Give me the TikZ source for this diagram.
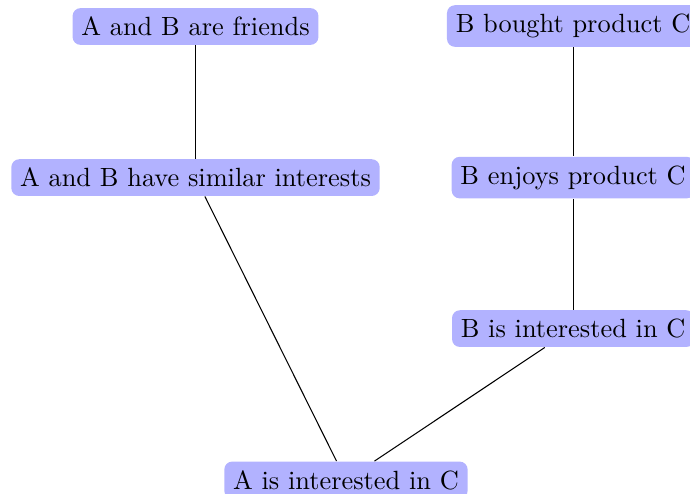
\documentclass[tikz,border=0pt]{standalone}
\begin{document}
\begin{tikzpicture}[x=1pt,y=1pt,
  box/.style={fill=blue!30, rounded corners=3pt, inner sep=3.333pt},
  link/.style={draw=black, line width=0.4pt}]
\useasboundingbox (0,0) rectangle (261.86,-187.1);
\clip (0,0) rectangle (261.86,-187.1);
\node[box] (friends) at (74.2,-10.06) {A and B are friends};
\node[box] (similar) at (74.2,-67.4) {A and B have similar interests};
\node[box] (bought) at (217.5,-9.87) {B bought product C};
\node[box] (enjoys) at (217.5,-67.4) {B enjoys product C};
\node[box] (binterest) at (217.5,-124.7) {B is interested in C};
\node[box] (ainterest) at (131.3,-182.2) {A is interested in C};
\draw[link] (friends) -- (similar);
\draw[link] (bought) -- (enjoys);
\draw[link] (enjoys) -- (binterest);
\draw[link] (similar) -- (ainterest);
\draw[link] (binterest) -- (ainterest);
\end{tikzpicture}
\end{document}
